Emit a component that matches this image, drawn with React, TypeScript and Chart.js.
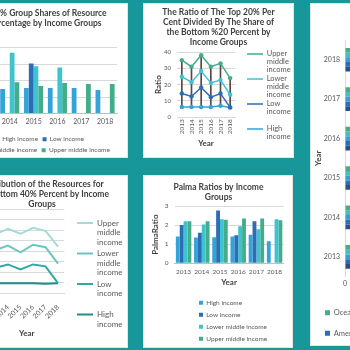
import React, { useEffect, useRef } from 'react';
import { Chart, registerables } from 'chart.js';

Chart.register(...registerables);

const FONT = "Lato, 'Open Sans', 'DejaVu Sans', sans-serif";
const BG = '#17979a';
const TXT = '#595959';
const TTL = '#3f3f3f';
const GRID = '#d9d9d9';

const C_HIGH = '#35a2d8';
const C_LOW = '#2d6db5';
const C_LM = '#3ec3cf';
const C_UM = '#43ad8a';
const DROP = '#5c4646';

const P4_UM = '#a6dad6';
const P4_LM = '#6cc5c0';
const P4_LOW = '#2fa9a4';
const P4_HIGH = '#1f8e8a';

// categories
const years = ['2013', '2014', '2015', '2016', '2017', '2018'];
const regions = ['Oceania', 'Europe', 'Asia', 'Americas', 'Africa'];
const regionColors = ['#46ae84', '#3dc0c8', '#34a0d6', '#2d6db5', '#24508c'];

// Top 20% group shares (percentage)
const top20High = [15, 14.9, 15.5, 15.5, 15.5, 14.3];
const top20Low = [29, null, 30.4, null, null, null];
const top20LowerMiddle = [31, 37, 28.7, 28, null, null];
const top20UpperMiddle = [18, 19.1, 16.7, 18.5, 17.9, 17.9];

// Ratio top 20% / bottom 20%
const ratioUpperMiddle = [35, 31, 38, 31, 33, 24];
const ratioLowerMiddle = [24.8, 21.5, 28.3, 21, 22.8, 13.8];
const ratioLow = [14.5, 12.7, 18.2, 12.3, 14.5, 6];
const ratioHigh = [6.3, 6.3, 6.3, 6.3, 7, 6];

// Distribution for bottom 40%
const bottom40Upper = [28, 30.6, 28.2, 31, 29.6, 22.1];
const bottom40Lower = [20.5, 22.6, 19.4, 23, 21.8, 14];
const bottom40Low = [12, 13.6, 11.2, 13.6, 12.7, 4.7];
const bottom40High = [4.6, 4.6, 4.6, 4.6, 4.4, 4.7];

// Palma ratios
const palmaHigh = [1.4, 1.35, 1.37, 1.4, 1.5, 1.16];
const palmaLow = [2.0, 1.6, 2.77, 1.47, 2.2, null];
const palmaLowerMiddle = [2.2, 2.03, 2.3, 1.94, 1.78, 2.3];
const palmaUpperMiddle = [2.2, 2.2, 2.28, 2.35, 2.35, 2.26];

// Regions by year
const regionOceania = [1.2, 1.3, 1.25, 1.3, 1.2, 1.3];
const regionEurope = [1.1, 1.1, 1.05, 1.1, 1.1, 1.05];
const regionAsia = [1.6, 1.7, 1.6, 1.6, 1.55, 1.6];
const regionAmericas = [2.6, 2.7, 2.6, 2.5, 2.6, 2.5];
const regionAfrica = [2.4, 2.5, 2.6, 2.4, 2.5, 2.3];

const WRAP: Record<string, string[]> = {
  'Upper middle income': ['Upper', 'middle', 'income'],
  'Lower middle income': ['Lower', 'middle', 'income'],
  'Low income': ['Low', 'income', ''],
  'High income': ['High', 'income'],
};

// Moves the title / legend boxes after Chart.js has laid them out.
const boxShift = {
  id: 'boxShift',
  afterLayout(chart: any, _a: any, opts: any) {
    if (!opts) return;
    const tb = chart.titleBlock;
    if (tb && opts.titleX != null) {
      tb.left = opts.titleX - 150;
      tb.right = opts.titleX + 150;
    }
    const lg = chart.legend;
    if (!lg) return;
    if (opts.lx != null) {
      lg.left = opts.lx;
      lg.right = chart.width + 200;
    }
    if (opts.ly != null) {
      lg.top = opts.ly;
      lg.bottom = chart.height;
    }
    if (opts.dx) {
      lg.left += opts.dx;
      lg.right += opts.dx;
    }
    if (opts.dy) {
      lg.top += opts.dy;
      lg.bottom += opts.dy;
    }
  },
};
Chart.register(boxShift as any);

const f = (size: number, weight: any = 'normal', lineHeight: number = 1.2) => ({ family: FONT, size, weight, lineHeight });

const TSIZE = 8.5;
const title = (lines: string[], top: number, bottom: number, lhPx = 10) => ({
  display: true,
  text: lines,
  color: TTL,
  font: f(TSIZE, 'bold', lhPx / TSIZE),
  padding: { top, bottom },
});

const wrapLabels = (chart: any) =>
  (Chart.defaults.plugins.legend.labels.generateLabels as any)(chart).map((it: any) => {
    const ds = chart.data.datasets[it.datasetIndex];
    return { ...it, text: WRAP[it.text] || it.text, lineWidth: ds.borderWidth, strokeStyle: ds.borderColor };
  });

const lineDs = (label: string, data: number[], color: string, width: number, radius: number) => ({
  type: 'line',
  label,
  data,
  borderColor: color,
  backgroundColor: color,
  borderWidth: width,
  pointRadius: radius,
  pointBorderWidth: 0,
  pointBackgroundColor: color,
  order: 1,
});

const makeTop20 = () => ({
  type: 'bar',
  data: {
    labels: years,
    datasets: [
      { label: 'High income', data: top20High, backgroundColor: C_HIGH },
      { label: 'Low income', data: top20Low, backgroundColor: C_LOW },
      { label: 'Lower middle income', data: top20LowerMiddle, backgroundColor: C_LM },
      { label: 'Upper middle income', data: top20UpperMiddle, backgroundColor: C_UM },
    ],
  },
  options: {
    responsive: false,
    animation: false,
    events: [],
    datasets: { bar: { categoryPercentage: 0.8, barPercentage: 1 } },
    layout: { padding: { left: 0, right: 11, top: 0, bottom: -4 } },
    plugins: {
      title: title(['Top 20% Group Shares of Resource', 'in Percentage by Income Groups'], 4.5, 19, 10.6),
      legend: { position: 'bottom', labels: { boxWidth: 4, boxHeight: 4, padding: 4.5, color: TXT, font: f(6.5) } },
      tooltip: { enabled: false },
      boxShift: { titleX: 84.5, dx: 3, dy: 1.5 },
    },
    scales: {
      x: {
        grid: { display: false, drawTicks: false },
        border: { color: '#bfbfbf' },
        ticks: { color: TXT, font: f(7), padding: 4, minRotation: 0, maxRotation: 0, autoSkip: false },
      },
      y: {
        min: 0,
        max: 40,
        ticks: { stepSize: 5, color: TXT, font: f(6) },
        grid: { color: GRID, drawTicks: false },
        border: { display: false },
        afterFit: (s: any) => { s.width = 18; },
      },
    },
  },
});

const makeRatio = () => ({
  type: 'line',
  data: {
    labels: years,
    datasets: [
      lineDs('Upper middle income', ratioUpperMiddle, C_UM, 1.5, 2.2),
      lineDs('Lower middle income', ratioLowerMiddle, C_LM, 1.5, 2.2),
      lineDs('Low income', ratioLow, C_LOW, 1.5, 2.2),
      lineDs('High income', ratioHigh, C_HIGH, 1.5, 2.2),
      {
        type: 'bar',
        label: 'High-Low',
        data: years.map((_, i) => {
          const v = [ratioUpperMiddle[i], ratioLowerMiddle[i], ratioLow[i], ratioHigh[i]];
          return [Math.min(...v), Math.max(...v)];
        }),
        backgroundColor: DROP,
        barThickness: 1,
        order: 10,
      },
    ],
  },
  options: {
    responsive: false,
    animation: false,
    events: [],
    layout: { padding: { left: 7, right: 59, top: 0, bottom: 6 } },
    plugins: {
      title: title(['The Ratio of The Top 20% Per', 'Cent Divided By The Share of', 'the Bottom %20 Percent by', 'Income Groups'], 4, 5),
      legend: {
        position: 'chartArea',
        align: 'start',
        labels: {
          usePointStyle: true,
          pointStyle: 'line',
          pointStyleWidth: 16,
          boxHeight: 7.5,
          padding: 1,
          color: TXT,
          font: f(7.5, 'normal', 8 / 7.5),
          generateLabels: wrapLabels,
          filter: (it: any) => it.datasetIndex < 4,
        },
      },
      tooltip: { enabled: false },
      boxShift: { titleX: 75.5, lx: 103, ly: 46.25 },
    },
    scales: {
      x: {
        offset: true,
        grid: { display: false, drawTicks: false },
        border: { color: GRID },
        ticks: { color: TXT, font: f(6.5), minRotation: 90, maxRotation: 90, autoSkip: false, padding: 2 },
        title: { display: true, text: 'Year', color: TTL, font: f(8, 'bold') },
        afterFit: (s: any) => { s.height = 34.8; },
      },
      y: {
        min: 0,
        max: 40,
        ticks: { stepSize: 5, color: TXT, font: f(6), padding: 6 },
        grid: { color: GRID, drawTicks: false },
        border: { display: false },
        title: { display: true, text: 'Ratio', color: TTL, font: f(8, 'bold') },
        afterFit: (s: any) => { s.width = 27; },
      },
    },
  },
});

const makeRegion = () => ({
  type: 'bar',
  data: {
    labels: years,
    datasets: [
      { label: regions[0], data: regionOceania, backgroundColor: regionColors[0] },
      { label: regions[1], data: regionEurope, backgroundColor: regionColors[1] },
      { label: regions[2], data: regionAsia, backgroundColor: regionColors[2] },
      { label: regions[3], data: regionAmericas, backgroundColor: regionColors[3] },
      { label: regions[4], data: regionAfrica, backgroundColor: regionColors[4] },
    ],
  },
  options: {
    responsive: false,
    animation: false,
    events: [],
    indexAxis: 'y',
    datasets: { bar: { categoryPercentage: 0.6, barPercentage: 1 } },
    layout: { padding: { left: 0, right: 8, top: 0, bottom: 4 } },
    plugins: {
      title: title(['Average Palma Ratio by Region'], 4, 23),
      legend: { position: 'bottom', align: 'start', labels: { boxWidth: 5, boxHeight: 5, padding: 13, color: TXT, font: f(7.5) } },
      tooltip: { enabled: false },
      boxShift: { titleX: 101, dx: 2, dy: 5 },
    },
    scales: {
      y: {
        reverse: true,
        grid: { display: false, drawTicks: false },
        border: { display: false },
        ticks: { color: TXT, font: f(7), padding: 5 },
        title: { display: true, text: 'Year', color: TTL, font: f(8, 'bold') },
        afterFit: (s: any) => { s.width = 35; },
      },
      x: {
        min: 0,
        max: 3,
        ticks: { stepSize: 0.5, color: TXT, font: f(7), padding: 3 },
        grid: { color: GRID, drawTicks: false },
        border: { display: false },
      },
    },
  },
});

const makeBottom40 = () => ({
  type: 'line',
  data: {
    labels: years,
    datasets: [
      lineDs('Upper middle income', bottom40Upper, P4_UM, 2, 0),
      lineDs('Lower middle income', bottom40Lower, P4_LM, 2, 0),
      lineDs('Low income', bottom40Low, P4_LOW, 2, 0),
      lineDs('High income', bottom40High, P4_HIGH, 2, 0),
    ],
  },
  options: {
    responsive: false,
    animation: false,
    events: [],
    layout: { padding: { left: 0, right: 63.75, top: 0, bottom: 6 } },
    plugins: {
      title: title(['Distribution of the Resources for', 'the Bottom 40% Percent by Income', 'Groups'], 4, 0),
      legend: {
        position: 'chartArea',
        align: 'start',
        labels: {
          usePointStyle: true,
          pointStyle: 'line',
          pointStyleWidth: 16,
          boxHeight: 8,
          padding: 2,
          color: TXT,
          font: f(8, 'normal', 9.5 / 8),
          generateLabels: wrapLabels,
        },
      },
      tooltip: { enabled: false },
      boxShift: { titleX: 86, lx: 119, ly: 42 },
    },
    scales: {
      x: {
        offset: true,
        grid: { display: false },
        border: { color: GRID },
        ticks: { color: TXT, font: f(7), minRotation: 45, maxRotation: 45, autoSkip: false, padding: 2 },
        title: { display: true, text: 'Year', color: TTL, font: f(8, 'bold') },
        afterFit: (s: any) => { s.height = 49; },
      },
      y: {
        min: 0,
        max: 40,
        ticks: { stepSize: 5, color: TXT, font: f(6), padding: 4 },
        grid: { color: GRID, drawTicks: false },
        border: { display: false },
        title: { display: true, text: 'Ratio', color: TTL, font: f(8, 'bold') },
        afterFit: (s: any) => { s.width = 33.25; s.paddingTop = 0; },
      },
    },
  },
});

const makePalma = () => ({
  type: 'bar',
  data: {
    labels: years,
    datasets: [
      { label: 'High income', data: palmaHigh, backgroundColor: C_HIGH },
      { label: 'Low income', data: palmaLow, backgroundColor: C_LOW },
      { label: 'Lower middle income', data: palmaLowerMiddle, backgroundColor: C_LM },
      { label: 'Upper middle income', data: palmaUpperMiddle, backgroundColor: C_UM },
    ],
  },
  options: {
    responsive: false,
    animation: false,
    events: [],
    datasets: { bar: { categoryPercentage: 0.85, barPercentage: 1 } },
    layout: { padding: { left: 4, right: 9.3, top: 0, bottom: 56.5 } },
    plugins: {
      title: title(['Palma Ratios by Income', 'Groups'], 7, 4),
      legend: {
        position: 'chartArea',
        align: 'start',
        labels: { boxWidth: 4, boxHeight: 4, padding: 5.5, color: TXT, font: f(6.5) },
      },
      tooltip: { enabled: false },
      boxShift: { titleX: 75.5, lx: 50.5, ly: 119 },
    },
    scales: {
      x: {
        grid: { display: false, drawTicks: false },
        border: { color: '#bfbfbf' },
        ticks: { color: TXT, font: f(6.5), padding: 4.5, minRotation: 0, maxRotation: 0, autoSkip: false },
        title: { display: true, text: 'Year', color: TTL, font: f(8, 'bold') },
        afterFit: (s: any) => { s.height = 28.2; },
      },
      y: {
        min: 0,
        max: 3,
        ticks: { stepSize: 0.5, color: TXT, font: f(6.5), padding: 6, callback: (v: any) => String(v).replace('.', ',') },
        grid: { color: GRID, drawTicks: false },
        border: { display: false },
        title: { display: true, text: 'PalmaRatio', color: TTL, font: f(8, 'bold') },
        afterFit: (s: any) => { s.width = 27.5; },
      },
    },
  },
});

function ChartBox({ x, y, w, h, make }: { x: number; y: number; w: number; h: number; make: () => any }) {
  const ref = useRef<HTMLCanvasElement | null>(null);
  useEffect(() => {
    if (!ref.current) return;
    const c = new Chart(ref.current, make());
    return () => c.destroy();
  }, []);
  return (
    <canvas
      ref={ref}
      width={w}
      height={h}
      style={{ position: 'absolute', left: x, top: y, width: w, height: h }}
    />
  );
}

function Panel({ x, y, w, h }: { x: number; y: number; w: number; h: number }) {
  return <div style={{ position: 'absolute', left: x, top: y, width: w, height: h, background: '#ffffff', boxShadow: 'inset 0 0 0 1px #e4e4e4' }} />;
}

export default function App() {
  Chart.defaults.font.family = FONT;
  return (
    <div style={{ position: 'fixed', left: 0, top: 0, width: 350, height: 350, background: BG, overflow: 'hidden' }}>
      <Panel x={-60} y={3} w={188} h={155} />
      <Panel x={143} y={3} w={151} h={155} />
      <Panel x={310} y={3} w={200} h={343} />
      <Panel x={-60} y={175} w={188} h={173} />
      <Panel x={143} y={175} w={150} h={173} />
      <ChartBox x={-44} y={3} w={172} h={155} make={makeTop20} />
      <ChartBox x={143} y={3} w={151} h={155} make={makeRatio} />
      <ChartBox x={310} y={3} w={175} h={343} make={makeRegion} />
      <ChartBox x={-44} y={175} w={172} h={173} make={makeBottom40} />
      <ChartBox x={143} y={175} w={150} h={173} make={makePalma} />
    </div>
  );
}
